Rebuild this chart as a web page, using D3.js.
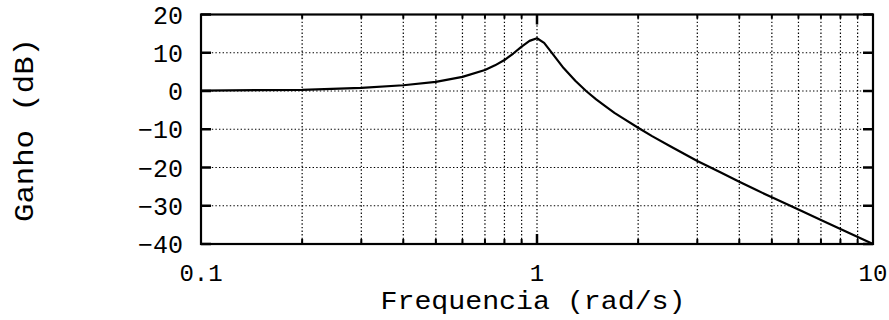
<!DOCTYPE html>
<html>
<head>
<meta charset="utf-8">
<script src="https://cdn.jsdelivr.net/npm/d3@7/dist/d3.min.js"></script>
<style>
  html, body { margin: 0; padding: 0; background: #fff; }
  svg { display: block; }
  text { font-family: "Courier New", "Liberation Mono", monospace; fill: #000; }
</style>
</head>
<body>
<svg id="chart" width="889" height="320"></svg>
<script>
// Data (frequency in rad/s, gain in dB)
const freq = [0.1, 0.2, 0.3, 0.4, 0.5, 0.6, 0.7, 0.75, 0.8, 0.85, 0.9, 0.95, 1.0, 1.05, 1.1, 1.2, 1.3, 1.4, 1.5, 1.6, 1.7, 1.8, 2, 2.2, 2.5, 3, 3.5, 4, 4.5, 5, 6, 7, 8, 10];
const gain = [0.1, 0.3, 0.8, 1.5, 2.4, 3.7, 5.5, 6.7, 8.1, 9.8, 11.6, 13.1, 13.8, 12.6, 10.3, 6.0, 2.7, 0.0, -2.2, -4.0, -5.7, -7.1, -9.6, -11.8, -14.5, -18.3, -21.2, -23.7, -25.9, -27.8, -31.0, -33.7, -36.1, -40.0];

const xTickValues = [0.1, 1, 10];
const xTickLabels = ["0.1", "1", "10"];
const xMinorValues = [0.2, 0.3, 0.4, 0.5, 0.6, 0.7, 0.8, 0.9, 2, 3, 4, 5, 6, 7, 8, 9];
const yTickValues = [20, 10, 0, -10, -20, -30, -40];
const yTickLabels = ["20", "10", "0", "\u221210", "\u221220", "\u221230", "\u221240"];
const xTitle = "Frequencia (rad/s)";
const yTitle = "Ganho (dB)";

const svg = d3.select("#chart");
const L = 201, R = 873, T = 14.5, B = 244;

const x = d3.scaleLog().domain([0.1, 10]).range([L, R]);
const y = d3.scaleLinear().domain([-40, 20]).range([B, T]);

// grid lines (dotted)
const grid = svg.append("g").attr("stroke", "#000").attr("stroke-width", 1.2)
  .attr("stroke-dasharray", "1.4,2.2");
grid.selectAll("line.gx").data(xMinorValues.concat([1])).join("line")
  .attr("class", "gx")
  .attr("x1", d => x(d)).attr("x2", d => x(d)).attr("y1", T).attr("y2", B);
grid.selectAll("line.gy").data(yTickValues.filter(v => v > -40 && v < 20)).join("line")
  .attr("class", "gy")
  .attr("x1", L).attr("x2", R).attr("y1", d => y(d)).attr("y2", d => y(d));

// tick marks inside the frame
const ticks = svg.append("g").attr("stroke", "#000");
ticks.selectAll("line.mxb").data([1]).join("line").attr("class", "mxb")
  .attr("stroke-width", 2.5)
  .attr("x1", d => x(d)).attr("x2", d => x(d)).attr("y1", B).attr("y2", B - 10);
ticks.selectAll("line.mxt").data([1]).join("line").attr("class", "mxt")
  .attr("stroke-width", 2.5)
  .attr("x1", d => x(d)).attr("x2", d => x(d)).attr("y1", T).attr("y2", T + 10);
ticks.selectAll("line.nxb").data(xMinorValues).join("line").attr("class", "nxb")
  .attr("stroke-width", 2)
  .attr("x1", d => x(d)).attr("x2", d => x(d)).attr("y1", B).attr("y2", B - 5);
ticks.selectAll("line.nxt").data(xMinorValues).join("line").attr("class", "nxt")
  .attr("stroke-width", 2)
  .attr("x1", d => x(d)).attr("x2", d => x(d)).attr("y1", T).attr("y2", T + 4);
ticks.selectAll("line.yl").data(yTickValues).join("line").attr("class", "yl")
  .attr("stroke-width", 2.5)
  .attr("x1", L).attr("x2", L + 10).attr("y1", d => y(d)).attr("y2", d => y(d));
ticks.selectAll("line.yr").data(yTickValues).join("line").attr("class", "yr")
  .attr("stroke-width", 2.5)
  .attr("x1", R).attr("x2", R - 10).attr("y1", d => y(d)).attr("y2", d => y(d));

// curve (straight segments between sampled points, as in the reference)
const pts = freq.map((f, i) => [f, gain[i]]);
const line = d3.line().x(d => x(d[0])).y(d => y(d[1]));
svg.append("path").datum(pts)
  .attr("fill", "none").attr("stroke", "#000").attr("stroke-width", 2.2)
  .attr("stroke-linejoin", "round")
  .attr("d", line);

// frame
svg.append("rect").attr("x", L).attr("y", T).attr("width", R - L).attr("height", B - T)
  .attr("fill", "none").attr("stroke", "#000").attr("stroke-width", 2.2);

// y tick labels
svg.append("g").selectAll("text").data(yTickValues).join("text")
  .attr("x", 183).attr("y", d => y(d)).attr("dy", "0.36em")
  .attr("text-anchor", "end").attr("font-size", 25)
  .text((d, i) => yTickLabels[i]);

// x tick labels
svg.append("g").selectAll("text").data(xTickValues).join("text")
  .attr("x", d => x(d)).attr("y", 281)
  .attr("text-anchor", "middle").attr("font-size", 24)
  .text((d, i) => xTickLabels[i]);

// axis titles
svg.append("text").attr("x", 533).attr("y", 309).attr("text-anchor", "middle")
  .attr("font-size", 25).attr("textLength", 305).attr("lengthAdjust", "spacingAndGlyphs")
  .text(xTitle);
svg.append("text").attr("transform", "translate(33,130) rotate(-90)")
  .attr("text-anchor", "middle").attr("font-size", 28)
  .attr("textLength", 184).attr("lengthAdjust", "spacingAndGlyphs")
  .text(yTitle);
</script>
</body>
</html>
